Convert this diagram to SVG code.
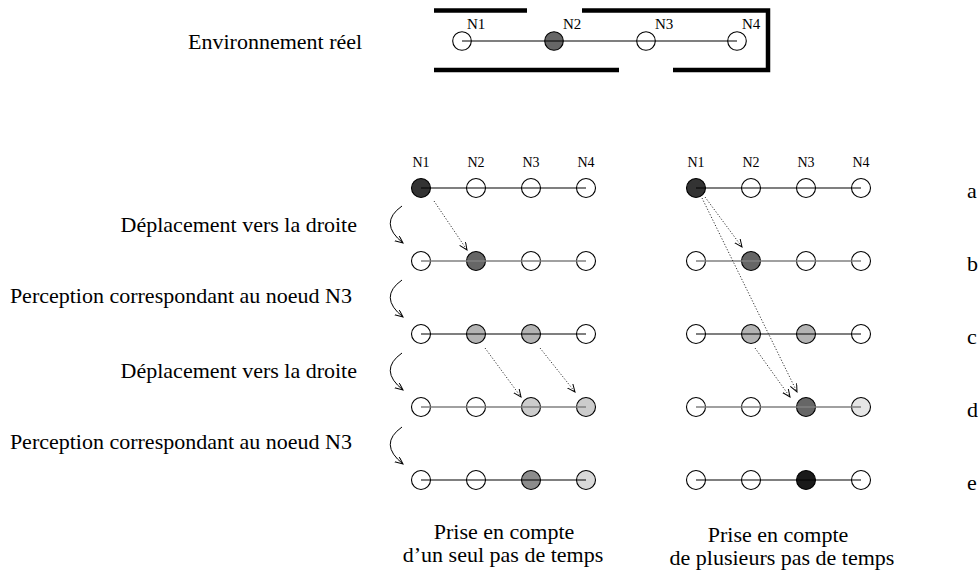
<svg xmlns="http://www.w3.org/2000/svg" width="980" height="571" viewBox="0 0 980 571">
<style>
text{font-family:"Liberation Serif","Times New Roman",serif;fill:#000}
.t{font-size:22px}
.n{font-size:14px;text-anchor:middle}
.ne{font-size:15px}
.c{text-anchor:middle}
.r{text-anchor:end}
circle{stroke:#000;stroke-width:1.1;fill:#fff}
.wall{stroke:#000;stroke-width:4.5;fill:none}
.lk{stroke:#000;stroke-width:1.2}
.lg{stroke:#808080;stroke-width:1.6}
.dot{stroke:#333;stroke-width:1;stroke-dasharray:1.2 1.8;fill:none}
.crv{stroke:#000;stroke-width:1;fill:none}
</style>
<defs>
<marker id="ah" markerUnits="userSpaceOnUse" markerWidth="10" markerHeight="8" refX="8" refY="3.5" orient="auto">
<path d="M0,0 L8,3.5 L0,7" fill="none" stroke="#000" stroke-width="1"/>
</marker>
</defs>

<text class="t" x="188" y="49">Environnement réel</text>
<g id="env-walls">
<line class="wall" x1="434" y1="10.5" x2="527" y2="10.5"/>
<polyline class="wall" points="582,10.5 768,10.5 768,70 673,70"/>
<line class="wall" x1="434" y1="70" x2="619" y2="70"/>
</g>
<g id="env-N1"><circle cx="462" cy="41" r="9.3"/><text class="ne" x="467" y="29">N1</text></g>
<g id="env-N2"><circle cx="554" cy="41" r="9.3" style="fill:#666"/><text class="ne" x="563" y="29">N2</text></g>
<g id="env-N3"><circle cx="646" cy="41" r="9.3"/><text class="ne" x="655" y="29">N3</text></g>
<g id="env-N4"><circle cx="737" cy="41" r="9.3"/><text class="ne" x="742" y="29">N4</text></g>
<g id="env-link"><line class="lk" x1="462" y1="41" x2="737" y2="41"/></g>

<g id="headers">
<text class="n" x="421" y="167">N1</text><text class="n" x="476" y="167">N2</text><text class="n" x="531" y="167">N3</text><text class="n" x="586" y="167">N4</text>
<text class="n" x="696" y="167">N1</text><text class="n" x="751" y="167">N2</text><text class="n" x="806" y="167">N3</text><text class="n" x="861" y="167">N4</text>
</g>

<!-- Left grid -->
<g id="L-a1"><circle cx="421" cy="188" r="9.5" style="fill:#333"/></g>
<g id="L-a2"><circle cx="476" cy="188" r="9.5"/></g>
<g id="L-a3"><circle cx="531" cy="188" r="9.5"/></g>
<g id="L-a4"><circle cx="586" cy="188" r="9.5"/></g>
<g id="L-b1"><circle cx="421" cy="261" r="9.5"/></g>
<g id="L-b2"><circle cx="476" cy="261" r="9.5" style="fill:#666"/></g>
<g id="L-b3"><circle cx="531" cy="261" r="9.5"/></g>
<g id="L-b4"><circle cx="586" cy="261" r="9.5"/></g>
<g id="L-c1"><circle cx="421" cy="334" r="9.5"/></g>
<g id="L-c2"><circle cx="476" cy="334" r="9.5" style="fill:#b3b3b3"/></g>
<g id="L-c3"><circle cx="531" cy="334" r="9.5" style="fill:#b3b3b3"/></g>
<g id="L-c4"><circle cx="586" cy="334" r="9.5"/></g>
<g id="L-d1"><circle cx="421" cy="407" r="9.5"/></g>
<g id="L-d2"><circle cx="476" cy="407" r="9.5"/></g>
<g id="L-d3"><circle cx="531" cy="407" r="9.5" style="fill:#ccc"/></g>
<g id="L-d4"><circle cx="586" cy="407" r="9.5" style="fill:#ccc"/></g>
<g id="L-e1"><circle cx="421" cy="480" r="9.5"/></g>
<g id="L-e2"><circle cx="476" cy="480" r="9.5"/></g>
<g id="L-e3"><circle cx="531" cy="480" r="9.5" style="fill:#8c8c8c"/></g>
<g id="L-e4"><circle cx="586" cy="480" r="9.5" style="fill:#d9d9d9"/></g>

<!-- Right grid -->
<g id="R-a1"><circle cx="696" cy="188" r="9.5" style="fill:#333"/></g>
<g id="R-a2"><circle cx="751" cy="188" r="9.5"/></g>
<g id="R-a3"><circle cx="806" cy="188" r="9.5"/></g>
<g id="R-a4"><circle cx="861" cy="188" r="9.5"/></g>
<g id="R-b1"><circle cx="696" cy="261" r="9.5"/></g>
<g id="R-b2"><circle cx="751" cy="261" r="9.5" style="fill:#666"/></g>
<g id="R-b3"><circle cx="806" cy="261" r="9.5"/></g>
<g id="R-b4"><circle cx="861" cy="261" r="9.5"/></g>
<g id="R-c1"><circle cx="696" cy="334" r="9.5"/></g>
<g id="R-c2"><circle cx="751" cy="334" r="9.5" style="fill:#b3b3b3"/></g>
<g id="R-c3"><circle cx="806" cy="334" r="9.5" style="fill:#b3b3b3"/></g>
<g id="R-c4"><circle cx="861" cy="334" r="9.5"/></g>
<g id="R-d1"><circle cx="696" cy="407" r="9.5"/></g>
<g id="R-d2"><circle cx="751" cy="407" r="9.5"/></g>
<g id="R-d3"><circle cx="806" cy="407" r="9.5" style="fill:#666"/></g>
<g id="R-d4"><circle cx="861" cy="407" r="9.5" style="fill:#e6e6e6"/></g>
<g id="R-e1"><circle cx="696" cy="480" r="9.5"/></g>
<g id="R-e2"><circle cx="751" cy="480" r="9.5"/></g>
<g id="R-e3"><circle cx="806" cy="480" r="9.5" style="fill:#1a1a1a"/></g>
<g id="R-e4"><circle cx="861" cy="480" r="9.5"/></g>

<g id="connectors">
<line class="lk" x1="421" y1="188" x2="586" y2="188"/>
<line class="lg" x1="421" y1="261" x2="586" y2="261"/>
<line class="lk" x1="421" y1="334" x2="586" y2="334"/>
<line class="lg" x1="421" y1="407" x2="586" y2="407"/>
<line class="lk" x1="421" y1="480" x2="586" y2="480"/>
<line class="lk" x1="696" y1="188" x2="861" y2="188"/>
<line class="lg" x1="696" y1="261" x2="861" y2="261"/>
<line class="lk" x1="696" y1="334" x2="861" y2="334"/>
<line class="lg" x1="696" y1="407" x2="861" y2="407"/>
<line class="lk" x1="696" y1="480" x2="861" y2="480"/>

<line class="dot" x1="434" y1="201" x2="467" y2="250" marker-end="url(#ah)"/>
<line class="dot" x1="485" y1="348" x2="521" y2="397" marker-end="url(#ah)"/>
<line class="dot" x1="540" y1="348" x2="575" y2="392" marker-end="url(#ah)"/>
<line class="dot" x1="705" y1="197" x2="742" y2="247" marker-end="url(#ah)"/>
<line class="dot" x1="702" y1="198" x2="797" y2="392" marker-end="url(#ah)"/>
<line class="dot" x1="755" y1="348" x2="790" y2="397" marker-end="url(#ah)"/>

<path class="crv" d="M402,206 Q378,223 403,243" marker-end="url(#ah)"/>
<path class="crv" d="M402,280 Q378,297 403,317" marker-end="url(#ah)"/>
<path class="crv" d="M402,353 Q378,370 403,390" marker-end="url(#ah)"/>
<path class="crv" d="M402,427 Q378,444 403,464" marker-end="url(#ah)"/>
</g>

<g id="step-labels">
<text class="t r" x="357" y="232">Déplacement vers la droite</text>
<text class="t r" x="352" y="303">Perception correspondant au noeud N3</text>
<text class="t r" x="357" y="378">Déplacement vers la droite</text>
<text class="t r" x="352" y="449">Perception correspondant au noeud N3</text>
</g>

<g id="row-labels">
<text class="t" x="967" y="198">a</text>
<text class="t" x="967" y="271">b</text>
<text class="t" x="967" y="344">c</text>
<text class="t" x="967" y="417">d</text>
<text class="t" x="967" y="490">e</text>
</g>

<g id="captions">
<text class="t c" x="504" y="539">Prise en compte</text>
<text class="t c" x="503" y="562">d’un seul pas de temps</text>
<text class="t c" x="778" y="542">Prise en compte</text>
<text class="t c" x="782" y="565">de plusieurs pas de temps</text>
</g>
</svg>
